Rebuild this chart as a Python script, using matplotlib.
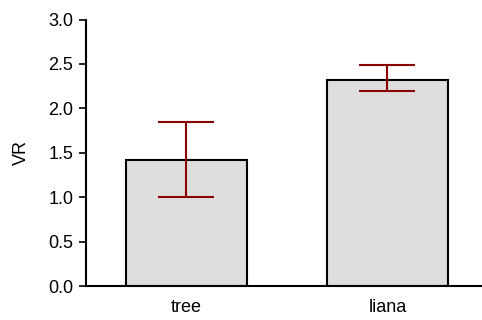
import numpy as np
import matplotlib
matplotlib.use("Agg")
from matplotlib import pyplot as plt

plt.rcParams['font.family'] = ['Liberation Sans', 'DejaVu Sans']

# group means with asymmetric error limits
groups = ["tree", "liana"]
means = [1.42, 2.32]
err_low = [1.00, 2.19]
err_high = [1.85, 2.485]

x = np.arange(len(groups))
lower = np.array(means) - np.array(err_low)
upper = np.array(err_high) - np.array(means)

fig = plt.figure(figsize=(4.82, 3.2), dpi=100)
ax = fig.add_axes([0.178, 0.106, 0.822, 0.833])

ax.bar(x, means, width=0.6, color="#dedede", edgecolor="black", linewidth=1.5)
ax.errorbar(x, means, yerr=[lower, upper], fmt="none", ecolor="#8b0000",
            elinewidth=1.5, capsize=20.5, capthick=1.5)

ax.set_xlim(-0.5, 1.47)
ax.set_ylim(0, 3.0)
ax.set_yticks(np.arange(0, 3.01, 0.5))
ax.set_yticklabels([f"{v:.1f}" for v in np.arange(0, 3.01, 0.5)])
ax.set_xticks(x)
ax.set_xticklabels(groups)
ax.set_ylabel("VR", fontsize=13, labelpad=13)

ax.spines["top"].set_visible(False)
ax.spines["right"].set_visible(False)
ax.spines["left"].set_linewidth(1.5)
ax.spines["bottom"].set_linewidth(1.5)
ax.tick_params(axis="y", direction="out", length=5, width=1.2, labelsize=13, pad=4)
ax.tick_params(axis="x", length=0, labelsize=13, pad=9)

fig.savefig("out.png", dpi=100)
